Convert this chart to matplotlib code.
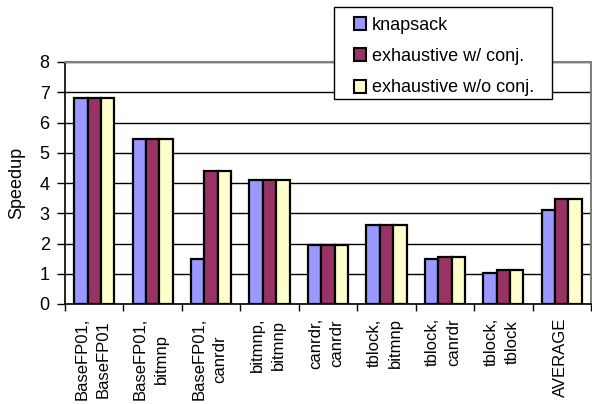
import numpy as np
import matplotlib.pyplot as plt
from matplotlib.patches import Patch, Rectangle

plt.rcParams['font.family'] = ['Liberation Sans', 'DejaVu Sans']

categories = ['BaseFP01,\nBaseFP01', 'BaseFP01,\nbitmnp', 'BaseFP01,\ncanrdr',
              'bitmnp,\nbitmnp', 'canrdr,\ncanrdr', 'tblock,\nbitmnp',
              'tblock,\ncanrdr', 'tblock,\ntblock', 'AVERAGE']
knapsack = [6.81, 5.47, 1.49, 4.10, 1.96, 2.60, 1.49, 1.01, 3.10]
exh_conj = [6.81, 5.47, 4.41, 4.10, 1.96, 2.60, 1.55, 1.11, 3.48]
exh_noconj = [6.81, 5.47, 4.39, 4.10, 1.96, 2.60, 1.55, 1.11, 3.48]
series_names = ['knapsack', 'exhaustive w/ conj.', 'exhaustive w/o conj.']
colors = ['#9999FF', '#993366', '#FFFFCC']

W, H = 592, 404
fig = plt.figure(figsize=(W / 100, H / 100), dpi=100)
ax = fig.add_axes([65 / W, 1 - 304 / H, 526 / W, 242 / H])

x = np.arange(len(categories))
w = 0.23
for i, vals in enumerate([knapsack, exh_conj, exh_noconj]):
    ax.bar(x + (i - 1) * w, vals, w, color=colors[i], edgecolor='black',
           linewidth=1.6, zorder=3)

ax.set_xlim(-0.5, len(categories) - 0.5)
ax.set_ylim(0, 8)
ax.set_yticks(range(9))
ax.tick_params(axis='y', labelsize=13, length=6, width=1, direction='out', pad=5)
ax.yaxis.grid(True, color='black', linewidth=1, zorder=0)

# ticks between categories, labels centred under each group
ax.set_xticks(np.arange(len(categories) + 1) - 0.5)
ax.set_xticklabels([])
ax.tick_params(axis='x', length=5, width=1, direction='out')
for xi, lab in zip(x, categories):
    ax.text(xi - 0.03, -0.46, lab, rotation=90, ha='center', va='top',
            multialignment='center', fontsize=12, linespacing=1.5)

ax.set_ylabel('Speedup', fontsize=13)
ax.yaxis.set_label_coords(-40 / 526, 0.5)

for side in ['top', 'right']:
    ax.spines[side].set_color('#808080')
    ax.spines[side].set_linewidth(1.5)
for side in ['left', 'bottom']:
    ax.spines[side].set_color('black')
    ax.spines[side].set_linewidth(1.2)

# legend box drawn by hand so its padding can be set per side
fig.patches.append(Rectangle((334 / W, 1 - 99 / H), 218 / W, 92 / H,
                             transform=fig.transFigure, facecolor='white',
                             edgecolor='black', linewidth=1, zorder=5))
handles = [Patch(facecolor=c, edgecolor='black', linewidth=1.5) for c in colors]
leg = fig.legend(handles, series_names, loc='upper left',
                 bbox_to_anchor=(350 / W, 1 - 13 / H), fontsize=13,
                 frameon=False, handlelength=0.7, handleheight=0.7,
                 handletextpad=0.3, borderpad=0.2, labelspacing=0.8,
                 borderaxespad=0)
leg.set_zorder(6)

fig.savefig('out.png', dpi=100, facecolor='white')
